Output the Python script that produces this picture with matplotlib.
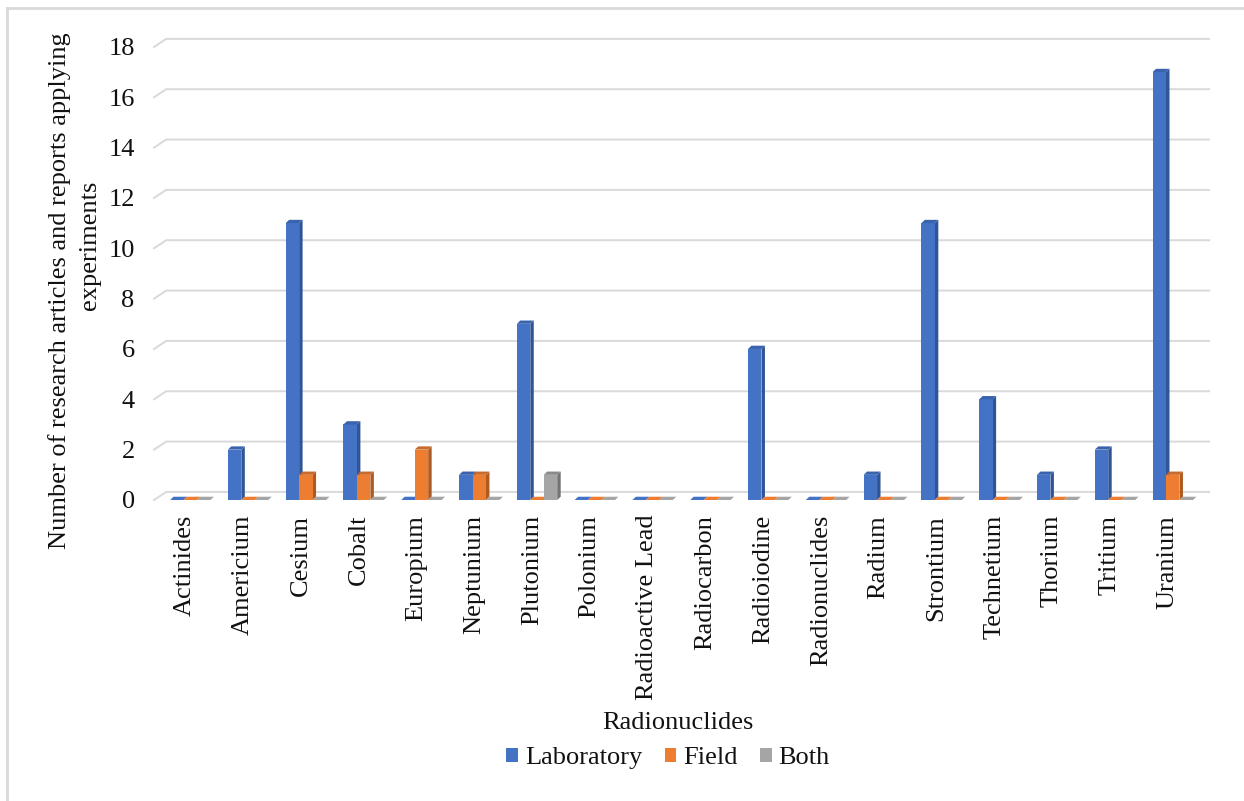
import numpy as np
import matplotlib.pyplot as plt
from matplotlib.patches import Polygon, Rectangle
from matplotlib.lines import Line2D

plt.rcParams['font.family'] = ['Liberation Serif', 'DejaVu Serif']

radionuclides = ['Actinides', 'Americium', 'Cesium', 'Cobalt', 'Europium', 'Neptunium',
                 'Plutonium', 'Polonium', 'Radioactive Lead', 'Radiocarbon', 'Radioiodine',
                 'Radionuclides', 'Radium', 'Strontium', 'Technetium', 'Thorium',
                 'Tritium', 'Uranium']
laboratory = [0, 2, 11, 3, 0, 1, 7, 0, 0, 0, 6, 0, 1, 11, 4, 1, 2, 17]
field = [0, 0, 1, 1, 2, 1, 0, 0, 0, 0, 0, 0, 0, 0, 0, 0, 0, 1]
both = [0, 0, 0, 0, 0, 0, 1, 0, 0, 0, 0, 0, 0, 0, 0, 0, 0, 0]

series = [
    ('Laboratory', laboratory, ('#4472C4', '#2F5597', '#3A63AE')),
    ('Field', field, ('#ED7D31', '#AE5A21', '#C9692A')),
    ('Both', both, ('#A5A5A5', '#737373', '#8A8A8A')),
]

fig = plt.figure(figsize=(12.44, 8.01), dpi=100)
ax = fig.add_axes([0.1206, 0.3695, 0.8537, 0.593])
ax.set_xlim(-0.606, 17.77)
ax.set_ylim(-0.2, 18.67)

# back-wall gridlines with the little perspective kink on the left
yticks = np.arange(0, 19, 2)
gx0, gdx, gdy, gx1 = -0.536, 0.21, 0.32, 17.72
for v in yticks:
    ax.add_line(Line2D([gx0, gx0 + gdx, gx1], [v, v + gdy, v + gdy],
                       color='#d9d9d9', lw=1.4, zorder=1))

# pseudo-3D columns: front face, side face, top face
w = 0.233
dx, dy = 0.06, 0.13
offsets = [-0.259, -0.026, 0.207]
x = np.arange(len(radionuclides))
for (name, vals, (front, side, top)), off in zip(series, offsets):
    for xi, v in zip(x, vals):
        left = xi + off
        z = 3
        if v > 0:
            ax.add_patch(Polygon([(left + w, 0), (left + w + dx, dy), (left + w + dx, v + dy),
                                  (left + w, v)], closed=True, fc=side, ec='none', zorder=z))
            ax.add_patch(Rectangle((left, 0), w, v, fc=front, ec='none', zorder=z))
        ax.add_patch(Polygon([(left, v), (left + w, v), (left + w + dx, v + dy),
                              (left + dx, v + dy)], closed=True,
                             fc=top if v > 0 else front, ec='none', zorder=z))

ax.set_yticks(yticks)
ax.set_xticks(x)
ax.set_xticklabels(radionuclides, rotation=90, va='top')
ax.tick_params(axis='x', length=0, pad=7, labelsize=19, colors='#111111')
ax.tick_params(axis='y', length=0, pad=11, labelsize=19, colors='#111111')
for s in ax.spines.values():
    s.set_visible(False)

fig.text(60 / 1244, 1 - 291 / 801, 'Number of research articles and reports applying',
         rotation=90, ha='center', va='center', fontsize=19, color='#111111')
fig.text(90 / 1244, 1 - 245 / 801, 'experiments',
         rotation=90, ha='center', va='center', fontsize=19, color='#111111')
fig.text(678 / 1244, 1 - 723 / 801, 'Radionuclides', ha='center', va='center',
         fontsize=19, color='#111111')

handles = [Rectangle((0, 0), 1, 1, fc=c[0], ec='none') for _, _, c in series]
fig.legend(handles, [s[0] for s in series], loc='center',
           bbox_to_anchor=(668 / 1244, 1 - 758 / 801), ncol=3, frameon=False,
           fontsize=19, handlelength=0.45, handleheight=0.45, handletextpad=0.25,
           columnspacing=0.85, labelcolor='#111111')

# chart border
fig.add_artist(Line2D([7.5 / 1244, 7.5 / 1244], [0, 1 - 7.5 / 801],
                      transform=fig.transFigure, color='#d9d9d9', lw=2))
fig.add_artist(Line2D([7.5 / 1244, 1], [1 - 7.5 / 801, 1 - 7.5 / 801],
                      transform=fig.transFigure, color='#d9d9d9', lw=2))

fig.savefig('out.png', dpi=100)
